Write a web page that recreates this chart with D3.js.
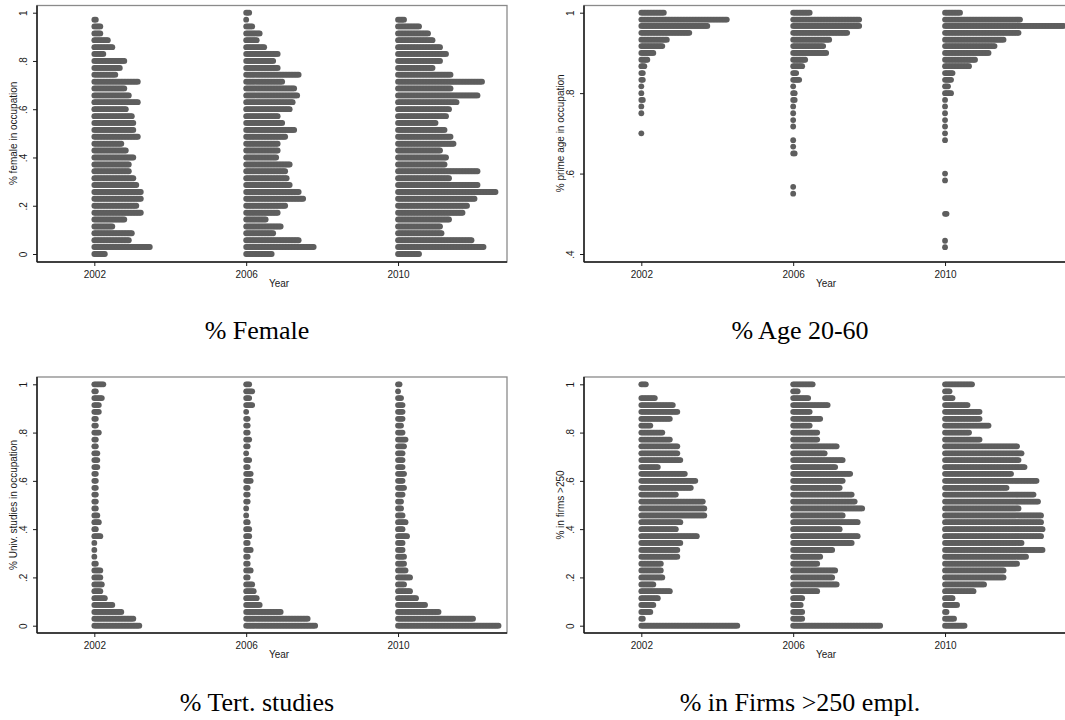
<!DOCTYPE html>
<html>
<head>
<meta charset="utf-8">
<script src="https://cdn.jsdelivr.net/npm/d3@7"></script>
<style>
  body { margin: 0; background: #fff; }
  svg { display: block; }
  .tick-label, .axis-title { font-family: "Liberation Sans", Arial, sans-serif; font-size: 10px; fill: #1a1a1a; }
  .caption { font-family: "Liberation Serif", "Times New Roman", serif; font-size: 26px; fill: #000; }
</style>
</head>
<body>
<div id="chart"></div>
<script>
/*************************/
/* CONSTANTS AND GLOBALS */
/*************************/
const width = 1065;
const height = 720;

const years = [2002, 2006, 2010];
const yearLabels = ["2002", "2006", "2010"];

/* bin positions (values of the y variable) */
const bins35 = [0, .029, .057, .086, .114, .143, .171, .2, .229, .257, .286, .314, .343, .371, .4, .429, .457, .486,
  .514, .543, .571, .6, .629, .657, .686, .714, .743, .771, .8, .829, .857, .886, .914, .943, .971, 1];
const binsAge = [1, .983, .967, .95, .933, .917, .9, .883, .867, .85, .833, .817, .8, .783, .767, .75, .733, .717,
  .7, .683, .667, .65, .633, .617, .6, .583, .567, .55, .533, .517, .5, .483, .467, .45, .433, .417];

/* number of occupations per bin, one array per year */
const female2002 = [8, 38, 24, 26, 13, 21, 32, 29, 32, 32, 29, 27, 24, 24, 27, 22, 19, 30, 27, 27, 26, 22, 30, 24, 21, 30, 15, 18, 21, 7, 13, 10, 5, 5, 2, 0];
const female2006 = [18, 46, 36, 19, 24, 14, 22, 27, 39, 36, 30, 28, 27, 30, 21, 22, 22, 27, 33, 25, 22, 30, 32, 35, 33, 25, 36, 22, 19, 22, 13, 8, 10, 5, 1, 3];
const female2010 = [15, 58, 50, 30, 29, 35, 44, 47, 52, 66, 54, 35, 54, 32, 33, 29, 38, 36, 32, 26, 33, 35, 40, 54, 36, 57, 36, 24, 29, 33, 29, 24, 21, 15, 5, 0];

const age2002 = [16, 58, 45, 33, 18, 15, 9, 5, 3, 2, 2, 1, 1, 2, 1, 1, 0, 0, 1, 0, 0, 0, 0, 0, 0, 0, 0, 0, 0, 0, 0, 0, 0, 0, 0, 0];
const age2006 = [12, 45, 45, 37, 25, 21, 23, 9, 7, 3, 5, 1, 2, 2, 1, 1, 1, 1, 0, 1, 1, 2, 0, 0, 0, 0, 1, 1, 0, 0, 0, 0, 0, 0, 0, 0];
const age2010 = [11, 51, 80, 50, 40, 34, 30, 21, 17, 6, 5, 3, 5, 1, 1, 1, 1, 1, 1, 1, 0, 0, 0, 0, 1, 1, 0, 0, 0, 0, 2, 0, 0, 0, 1, 1];

const tert2002 = [31, 27, 19, 13, 8, 5, 6, 5, 5, 2, 1, 1, 1, 5, 2, 4, 3, 2, 2, 2, 2, 2, 2, 3, 3, 3, 2, 2, 4, 2, 2, 4, 4, 6, 2, 7];
const tert2006 = [47, 42, 24, 10, 8, 6, 5, 2, 4, 2, 2, 4, 2, 3, 3, 2, 1, 1, 2, 2, 2, 4, 4, 2, 3, 1, 2, 3, 2, 2, 2, 1, 5, 3, 5, 3];
const tert2010 = [68, 51, 28, 19, 13, 9, 5, 9, 6, 5, 5, 4, 4, 7, 4, 6, 4, 3, 3, 4, 5, 4, 5, 4, 4, 4, 5, 6, 4, 3, 4, 4, 4, 3, 1, 2];

const firms2002 = [65, 2, 7, 9, 12, 20, 9, 15, 14, 14, 25, 25, 27, 38, 24, 27, 43, 43, 42, 24, 34, 37, 30, 12, 27, 25, 25, 20, 15, 7, 20, 25, 22, 10, 0, 4];
const firms2006 = [59, 7, 7, 6, 7, 17, 30, 27, 29, 17, 19, 27, 40, 44, 32, 44, 34, 47, 42, 40, 32, 34, 39, 29, 34, 22, 30, 17, 17, 12, 19, 12, 24, 11, 4, 14];
const firms2010 = [14, 7, 2, 9, 6, 20, 27, 40, 40, 49, 55, 66, 52, 65, 66, 65, 65, 50, 63, 60, 42, 62, 45, 54, 50, 52, 49, 24, 17, 30, 24, 24, 16, 6, 4, 19];

/* axis ticks */
const ticksUnit = [0, .2, .4, .6, .8, 1];
const ticksUnitLabels = ["0", ".2", ".4", ".6", ".8", "1"];
const ticksAge = [.4, .6, .8, 1];
const ticksAgeLabels = [".4", ".6", ".8", "1"];

/* layout */
const cols = [
  { left: 37, right: 507, captionX: 257 },
  { left: 584, right: 1075, captionX: 800 }
];
const rows = [
  { top: 5.5, bottom: 262, yTop: 12.7, yBottom: 254, captionY: 339 },
  { top: 377, bottom: 633, yTop: 384.3, yBottom: 625.7, captionY: 711 }
];
const xDomain = [2000.49, 2012.87];
const plotW = 470;
const dotR = 2.9;
const dotStep = 0.0395;     // horizontal offset between stacked dots, in years
const dotColor = "#5e5e5e";

const panels = [
  { col: 0, row: 0, bins: bins35, counts: [female2002, female2006, female2010], domain: [0, 1],
    ticks: ticksUnit, tickLabels: ticksUnitLabels, yTitle: "% female in occupation", caption: "% Female" },
  { col: 1, row: 0, bins: binsAge, counts: [age2002, age2006, age2010], domain: [.4, 1],
    ticks: ticksAge, tickLabels: ticksAgeLabels, yTitle: "% prime age in occupation", caption: "% Age 20-60" },
  { col: 0, row: 1, bins: bins35, counts: [tert2002, tert2006, tert2010], domain: [0, 1],
    ticks: ticksUnit, tickLabels: ticksUnitLabels, yTitle: "% Univ. studies in occupation", caption: "% Tert. studies" },
  { col: 1, row: 1, bins: bins35, counts: [firms2002, firms2006, firms2010], domain: [0, 1],
    ticks: ticksUnit, tickLabels: ticksUnitLabels, yTitle: "% in firms >250", caption: "% in Firms >250 empl." }
];

/*********************/
/* DRAW              */
/*********************/
const svg = d3.select("#chart")
  .append("svg")
  .attr("width", width)
  .attr("height", height)
  .style("background-color", "#fff");

panels.forEach(p => drawPanel(p));

function drawPanel(p) {
  const c = cols[p.col];
  const r = rows[p.row];
  const g = svg.append("g");

  const xScale = d3.scaleLinear()
    .domain(xDomain)
    .range([c.left, c.left + plotW]);

  const yScale = d3.scaleLinear()
    .domain(p.domain)
    .range([r.yBottom, r.yTop]);

  // plot region outline
  g.append("rect")
    .attr("x", c.left)
    .attr("y", r.top)
    .attr("width", c.right - c.left)
    .attr("height", r.bottom - r.top)
    .attr("fill", "none")
    .attr("stroke", "#8a8a8a")
    .attr("stroke-width", 1.3);

  // dots: one row of stacked dots per bin and year
  const dots = [];
  years.forEach((yr, j) => {
    p.counts[j].forEach((n, k) => {
      for (let i = 0; i < n; i++) dots.push({ year: yr, v: p.bins[k], i: i });
    });
  });

  g.selectAll("circle.dot")
    .data(dots)
    .join("circle")
    .attr("class", "dot")
    .attr("cx", d => xScale(d.year + d.i * dotStep))
    .attr("cy", d => yScale(d.v))
    .attr("r", dotR)
    .attr("fill", dotColor);

  // axes
  const xAxis = d3.axisBottom(xScale)
    .tickValues(years)
    .tickFormat((d, i) => yearLabels[i])
    .tickSize(4)
    .tickSizeOuter(0);

  const xg = g.append("g")
    .attr("transform", `translate(0, ${r.bottom})`)
    .call(xAxis);
  xg.select(".domain").remove();
  xg.selectAll(".tick line").attr("stroke", "#1a1a1a");
  xg.selectAll(".tick text")
    .attr("class", "tick-label")
    .attr("y", 15.5)
    .attr("dy", null);

  const yAxis = d3.axisLeft(yScale)
    .tickValues(p.ticks)
    .tickFormat((d, i) => p.tickLabels[i])
    .tickSize(4)
    .tickSizeOuter(0);

  const yg = g.append("g")
    .attr("transform", `translate(${c.left}, 0)`)
    .call(yAxis);
  yg.select(".domain").remove();
  yg.selectAll(".tick line").attr("stroke", "#1a1a1a");
  yg.selectAll(".tick text")
    .attr("class", "tick-label")
    .attr("x", null)
    .attr("dy", null)
    .attr("transform", "translate(-10, 0) rotate(-90)")
    .attr("text-anchor", "middle");

  // axis lines (left + bottom)
  g.append("line")
    .attr("x1", c.left).attr("x2", c.right)
    .attr("y1", r.bottom).attr("y2", r.bottom)
    .attr("stroke", "#1a1a1a")
    .attr("stroke-width", 1.5);
  g.append("line")
    .attr("x1", c.left).attr("x2", c.left)
    .attr("y1", r.top).attr("y2", r.bottom)
    .attr("stroke", "#1a1a1a")
    .attr("stroke-width", 1.5);

  // titles
  g.append("text")
    .attr("class", "axis-title")
    .attr("x", c.left + (plotW) / 2 + 7)
    .attr("y", r.bottom + 25)
    .attr("text-anchor", "middle")
    .text("Year");

  g.append("text")
    .attr("class", "axis-title")
    .attr("transform", `translate(${c.left - 20.5}, ${(r.yTop + r.yBottom) / 2}) rotate(-90)`)
    .attr("text-anchor", "middle")
    .text(p.yTitle);

  svg.append("text")
    .attr("class", "caption")
    .attr("x", c.captionX)
    .attr("y", r.captionY)
    .attr("text-anchor", "middle")
    .text(p.caption);
}
</script>
</body>
</html>
